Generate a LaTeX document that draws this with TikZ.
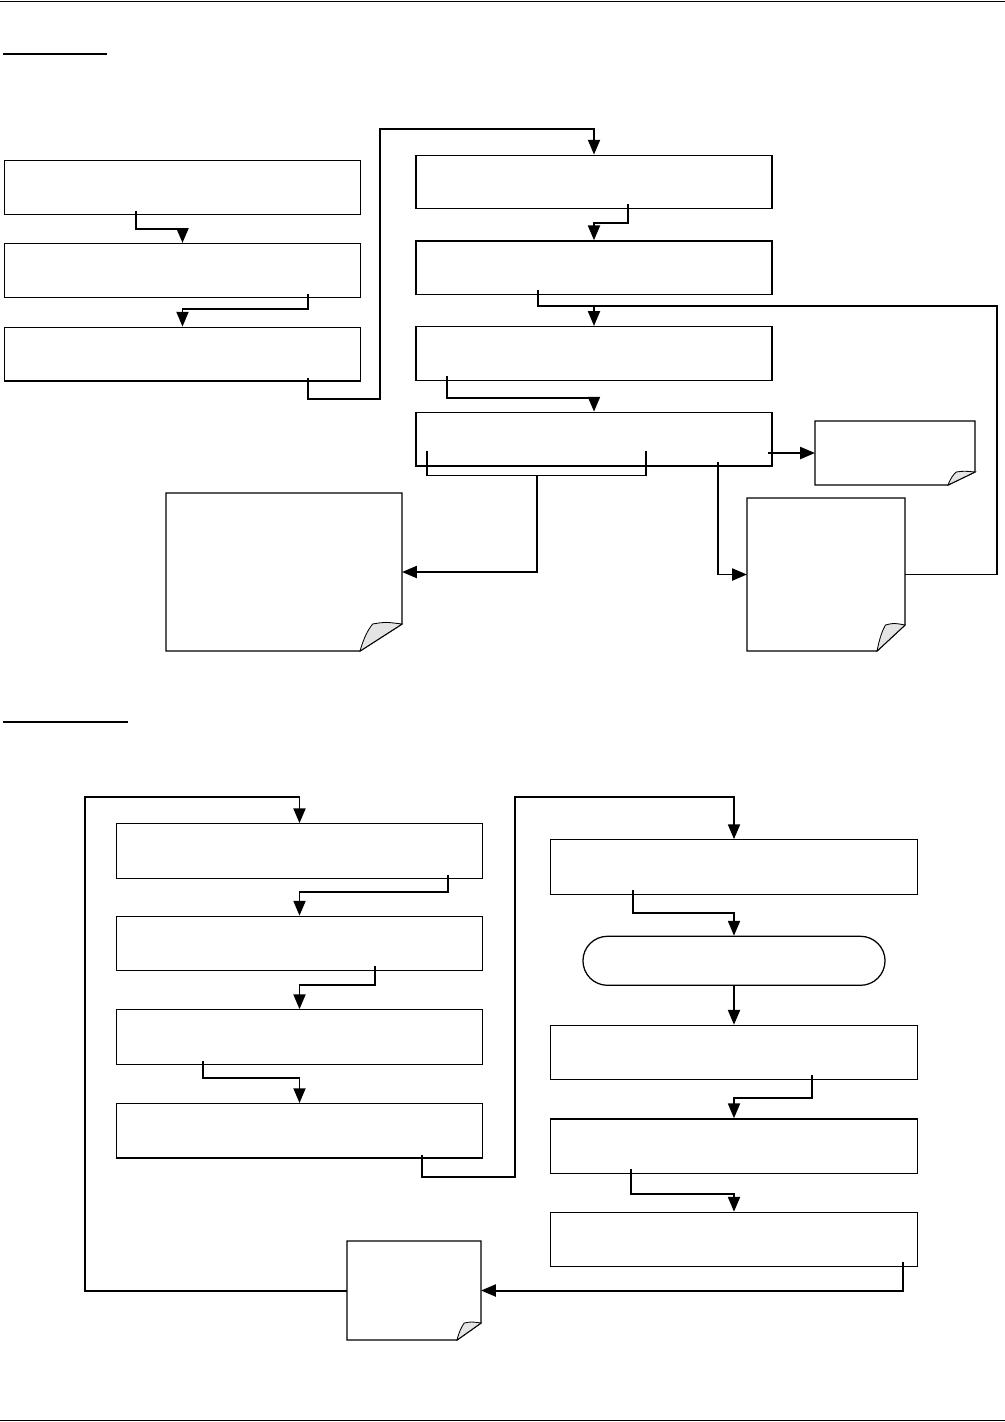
\documentclass[tikz,border=0pt]{standalone}
\usetikzlibrary{arrows.meta,positioning,calc,shapes.misc}
\definecolor{curlgray}{HTML}{E4E4E4}
% note sheet with a curled lower right corner: node, fold width, fold height
\newcommand\curlpage[3]{%
  \draw[pageline] (#1.north west) -- (#1.north east)
    -- ($(#1.south east)+(0,-#3)$) -- ($(#1.south east)+(-#2,0)$)
    -- (#1.south west) -- cycle;
  \filldraw[curl] ($(#1.south east)+(-#2,0)$)
    .. controls ($(#1.south east)+(-0.9*#2,-0.55*#3)$) and ($(#1.south east)+(-0.8*#2,-0.8*#3)$) .. ($(#1.south east)+(-0.7*#2,-#3)$)
    .. controls ($(#1.south east)+(-0.4*#2,-1.08*#3)$) .. ($(#1.south east)+(0,-#3)$) -- cycle;
}
\begin{document}
\begin{tikzpicture}[
  x=0.025cm, y=-0.025cm,
  box/.style={draw, line width=0.9pt, inner sep=0pt},
  upbox/.style={box, minimum width=8.9cm, minimum height=1.34cm},
  lowbox/.style={box, minimum width=9.16cm, minimum height=1.36cm},
  term/.style={draw, rounded rectangle, line width=0.9pt, inner sep=0pt,
    minimum width=7.55cm, minimum height=1.225cm},
  page/.style={inner sep=0pt, outer sep=0pt},
  pageline/.style={line width=0.9pt},
  curl/.style={fill=curlgray, draw=black, line width=0.6pt},
  flow/.style={-{Triangle[length=10.5pt,width=8.5pt]}, line width=1.4pt},
  link/.style={line width=1.4pt},
  tiebar/.style={line width=1pt},
  rule/.style={line width=0.7pt}
]
\useasboundingbox (0,0) rectangle (1005,1422);
\draw[rule] (0,1) -- (1005,1);
\draw[rule] (0,1420) -- (1005,1420);
\draw[line width=1.9pt] (3,54) -- (107,54);
\draw[line width=1.2pt] (3,722) -- (128,722);

% upper chart
\node[upbox] (a1) at (182.5,187.5) {};
\node[upbox, below=0.7cm of a1] (a2) {};
\node[upbox, below=0.72cm of a2] (a3) {};
\node[upbox] (b1) at (594,182) {};
\node[upbox, below=0.77cm of b1] (b2) {};
\node[upbox, below=0.77cm of b2] (b3) {};
\node[upbox, below=0.77cm of b3] (b4) {};
\node[page, minimum width=5.9cm, minimum height=3.95cm] (c1) at (284,572) {};
\node[page, minimum width=4cm, minimum height=1.6cm] (c2) at (895,453) {};
\node[page, minimum width=3.95cm, minimum height=3.825cm] (c3) at (826,574.5) {};
\curlpage{c1}{42}{27}
\curlpage{c2}{27}{13}
\curlpage{c3}{28}{26}

\draw[flow] ([shift={(-46.5,-4)}]a1.south) -- ++(0,18) -| (a2.north);
\draw[flow] ([shift={(125.5,-4)}]a2.south) -- ++(0,15) -| (a3.north);
\draw[flow] ([shift={(125.5,-4)}]a3.south) -- ++(0,21) -| (380,129) -| (b1.north);
\draw[flow] ([shift={(34,-5)}]b1.south) -- ++(0,19) -| (b2.north);
\coordinate (merge) at ($(b3.north)+(0,-20)$);
\draw[flow] ([shift={(-56,-5)}]b2.south) |- (merge) -- (b3.north);
\draw[flow] ([shift={(-147,-5)}]b3.south) -- ++(0,22) -| (b4.north);
\draw[tiebar] ([shift={(-167,-16)}]b4.south) |- ([shift={(52,9)}]b4.south) -- ++(0,-25);
\draw[flow] ([shift={(-57,9)}]b4.south) |- (c1.east);
\draw[flow] ([shift={(124,-5)}]b4.south) |- (c3.west);
\draw[flow] ($(b4.east |- c2.west)+(-5,0)$) -- (c2.west);
\draw[link] (c3.east) -- ++(92,0) |- (merge);

% lower chart
\node[lowbox] (d1) at (299.5,851) {};
\node[lowbox, below=0.92cm of d1] (d2) {};
\node[lowbox, below=0.945cm of d2] (d3) {};
\node[lowbox, below=0.955cm of d3] (d4) {};
\node[lowbox] (f1) at (734,867) {};
\node[term, below=1.02cm of f1] (t) {};
\node[lowbox, below=0.97cm of t] (f2) {};
\node[lowbox, below=0.945cm of f2] (f3) {};
\node[lowbox, below=0.945cm of f3] (f4) {};
\node[page, minimum width=3.35cm, minimum height=2.475cm] (e) at (414,1290.5) {};
\curlpage{e}{24}{17}

\draw[flow] (e.west) -| (85,797) -| (d1.north);
\draw[flow] ([shift={(148.5,-4)}]d1.south) -- ++(0,17) -| (d2.north);
\draw[flow] ([shift={(75.5,-5)}]d2.south) -- ++(0,19) -| (d3.north);
\draw[flow] ([shift={(-96.5,-4)}]d3.south) -- ++(0,17) -| (d4.north);
\draw[flow] ([shift={(122.5,-4)}]d4.south) -- ++(0,22) -| (515,797) -| (f1.north);
\draw[flow] ([shift={(-101,-5)}]f1.south) -- ++(0,23) -| (t.north);
\draw[flow] (t) -- (f2);
\draw[flow] ([shift={(78,-5)}]f2.south) -- ++(0,23) -| (f3.north);
\draw[flow] ([shift={(-103,-5)}]f3.south) -- ++(0,25) -| (f4.north);
\draw[flow] ([shift={(169,-5)}]f4.south) |- (e.east);
\end{tikzpicture}
\end{document}
